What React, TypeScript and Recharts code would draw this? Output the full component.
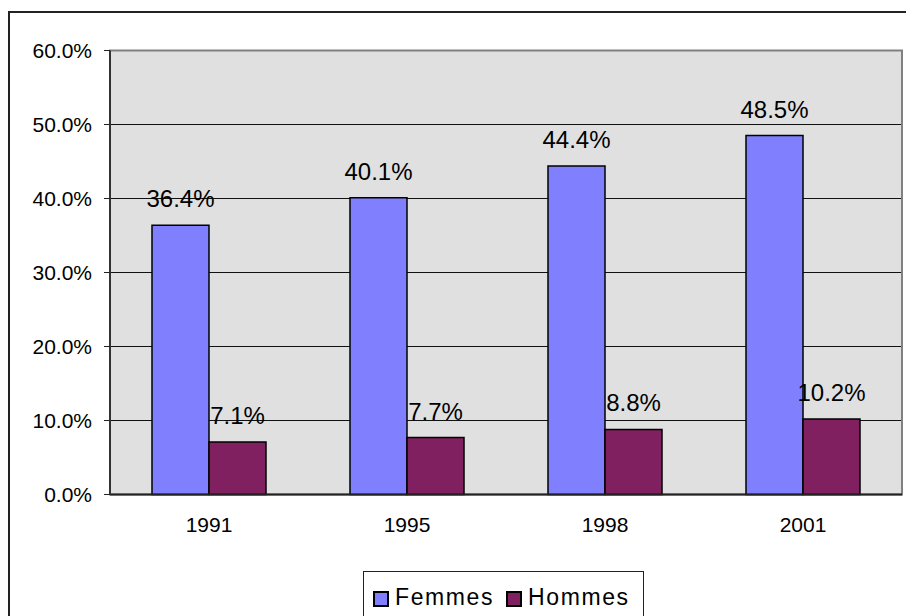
import { BarChart, Bar, XAxis, YAxis, CartesianGrid, Legend, LabelList, ReferenceArea } from "recharts";

const years = ["1991", "1995", "1998", "2001"];
const femmes = [36.4, 40.1, 44.4, 48.5];
const hommes = [7.1, 7.7, 8.8, 10.2];
const yTicks = [0, 10, 20, 30, 40, 50, 60];

const data = years.map((year, i) => ({ year, femmes: femmes[i], hommes: hommes[i] }));

const FONT = "'Liberation Sans', Arial, sans-serif";
const FEMMES_COLOR = "#8080FF";
const HOMMES_COLOR = "#802060";

const pct = (v: number) => `${v.toFixed(1)}%`;

function ChartLegend() {
  const items = [
    { label: "Femmes", color: FEMMES_COLOR },
    { label: "Hommes", color: HOMMES_COLOR },
  ];
  return (
    <div
      style={{
        width: 281,
        height: 80,
        border: "1.5px solid #222",
        background: "#fff",
        boxSizing: "border-box",
        display: "flex",
        alignItems: "flex-start",
        paddingTop: 12,
        paddingLeft: 9,
        fontFamily: FONT,
        fontSize: 23,
        letterSpacing: 1.6,
        color: "#000",
      }}
    >
      {items.map((it, i) => (
        <div key={it.label} style={{ display: "flex", alignItems: "center", marginRight: i === 0 ? 12 : 0 }}>
          <span
            style={{
              display: "inline-block",
              width: 16,
              height: 16,
              background: it.color,
              border: "2px solid #000",
              boxSizing: "border-box",
              marginRight: 6,
              marginTop: 3,
            }}
          />
          <span>{it.label}</span>
        </div>
      ))}
    </div>
  );
}

export default function App() {
  return (
    <div style={{ position: "fixed", left: 0, top: 0, width: 906, height: 616, overflow: "hidden", background: "#fff" }}>
      <div
        style={{
          position: "absolute",
          left: 8,
          top: 11,
          width: 2000,
          height: 2000,
          borderLeft: "2px solid #222",
          borderTop: "2px solid #222",
        }}
      />
      <div style={{ position: "absolute", left: 0, top: 0 }}>
        <BarChart
          width={906}
          height={616}
          data={data}
          margin={{ top: 50.5, right: 4, left: 0, bottom: 81.5 }}
          barCategoryGap={42}
          barGap={0}
        >
          <CartesianGrid vertical={false} stroke="#111" fill="#E0E0E0" fillOpacity={1} />
          <ReferenceArea y1={0} y2={60} fill="none" stroke="#808080" strokeWidth={2} />
          <XAxis
            dataKey="year"
            height={40}
            tickLine={false}
            tickSize={0}
            tickMargin={23}
            axisLine={{ stroke: "#222", strokeWidth: 2 }}
            tick={{ fontSize: 21, fill: "#000", fontFamily: FONT }}
          />
          <YAxis
            width={110}
            domain={[0, 60]}
            ticks={yTicks}
            interval={0}
            tickFormatter={pct}
            tickSize={6}
            tickMargin={12}
            axisLine={{ stroke: "#333", strokeWidth: 2 }}
            tickLine={{ stroke: "#222" }}
            tick={{ fontSize: 21, fill: "#000", fontFamily: FONT }}
          />
          <Legend
            layout="horizontal"
            verticalAlign="middle"
            content={() => <ChartLegend />}
            wrapperStyle={{ left: 363, top: 571, width: 281 }}
          />
          <Bar dataKey="femmes" name="Femmes" fill={FEMMES_COLOR} stroke="#000" strokeWidth={1.5} isAnimationActive={false}>
            <LabelList dataKey="femmes" position="top" offset={18} formatter={(v: number) => pct(v)} style={{ fontSize: 24, fill: "#000", fontFamily: FONT }} />
          </Bar>
          <Bar dataKey="hommes" name="Hommes" fill={HOMMES_COLOR} stroke="#000" strokeWidth={1.5} isAnimationActive={false}>
            <LabelList dataKey="hommes" position="top" offset={18} formatter={(v: number) => pct(v)} style={{ fontSize: 24, fill: "#000", fontFamily: FONT }} />
          </Bar>
        </BarChart>
      </div>
    </div>
  );
}
